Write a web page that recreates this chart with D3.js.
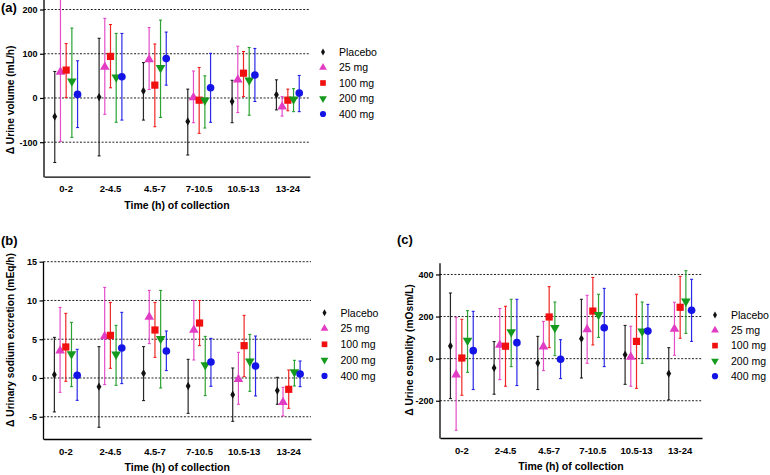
<!DOCTYPE html>
<html><head><meta charset="utf-8">
<script src="https://cdn.jsdelivr.net/npm/d3@7"></script>
<style>body{margin:0;background:#fff}svg{display:block}text{font-family:"Liberation Sans",Arial,sans-serif}</style>
</head><body><svg id="c" width="770" height="475"></svg>
<script>
const categories = ["0-2","2-4.5","4.5-7","7-10.5","10.5-13","13-24"];
const series = ["Placebo","25 mg","100 mg","200 mg","400 mg"];
const colors = ["#111111","#e23cc4","#f01010","#169a1e","#1414e6"];

// (a) Urine volume (mL/h): rows = series, cols = categories
const volMean = [[-42,2,16,-53,-8,7],[59,70,87,1,41,-20],[63,94,29,-5,56,-5],[38,47,68,-5,40,-3],[8,48,89,23,52,11]];
const volLow  = [[-146,-131,-50,-129,-56,-27],[-98,-37,19,-56,-33,-41],[1,23,-65,-80,3,-29],[-89,-55,-44,-68,-39,-31],[-67,-50,29,-55,-8,-31]];
const volHigh = [[60,135,80,20,40,41],[222,180,159,61,117,3],[123,166,122,69,105,20],[158,146,176,50,114,21],[84,146,149,101,112,51]];
const volTicks = [-100,0,100,200];

// (b) Urinary sodium excretion (mEq/h)
const naMean = [[0.43,-1.12,0.6,-1.03,-2.15,-1.63],[3.52,5.37,7.86,6.19,-0.17,-3.14],[4.0,5.5,6.19,7.09,4.17,-1.46],[3.1,3.05,5.07,1.68,2.15,0.77],[0.34,3.87,3.48,2.06,1.55,0.52]];
const naLow  = [[-4.38,-6.36,-2.92,-4.56,-5.59,-3.39],[-1.85,-0.86,4.43,2.32,-3.39,-4.9],[-0.43,1.25,2.66,4.17,0.17,-3.91],[-1.12,-0.95,-1.29,-2.28,-1.72,-1.03],[-2.88,-0.73,0.95,-1.07,-2.32,-1.12]];
const naHigh = [[5.24,4.04,4.04,2.41,1.29,0.09],[9.11,11.69,11.3,10.0,3.31,-1.2],[8.34,9.75,9.75,10.0,8.08,1.03],[7.18,6.79,11.3,5.37,5.63,2.28],[3.7,8.47,6.06,5.11,5.41,2.19]];
const naTicks = [-5,0,5,10,15];

// (c) Urine osmolity (mOsm/L)
const osmMean = [[60,-44,-21,95,19,-71],[-76,65,57,139,8,141],[3,59,198,226,82,244],[86,127,147,209,130,272],[38,76,-3,147,131,230]];
const osmLow  = [[-190,-169,-147,-92,-122,-196],[-340,-100,-57,-22,-131,16],[-174,-131,52,65,-141,97],[-65,-38,14,101,-22,120],[-147,-128,-95,-38,0,82]];
const osmHigh = [[312,81,106,282,158,52],[196,238,177,301,154,268],[187,249,342,386,306,391],[228,282,269,306,269,418],[225,282,90,334,258,377]];
const osmTicks = [-200,0,200,400];

const svg = d3.select("#c");
const symbols = [d3.symbolDiamond, d3.symbolTriangle, d3.symbolSquare, d3.symbolTriangle, d3.symbolCircle];
const symSizes = [20, 40, 52, 40, 46];
const legSizes = [14, 26, 32, 26, 30];
const symRot = [0,0,0,180,0];

function panel(cfg){
  const g = svg.append("g");
  const x = d3.scaleBand().domain(categories).range([cfg.x0, cfg.x1]);
  const y = d3.scaleLinear().domain(cfg.domain).range([cfg.yb, cfg.yt]);
  g.selectAll("line.grid").data(cfg.ticks).join("line")
    .attr("x1", cfg.x0).attr("x2", cfg.x1)
    .attr("y1", d=>y(d)).attr("y2", d=>y(d))
    .attr("stroke","#222").attr("stroke-width",1).attr("stroke-dasharray","2,1.6");
  const ya = g.append("g").attr("transform",`translate(${cfg.x0},0)`)
    .call(d3.axisLeft(y).tickValues(cfg.ticks).tickSize(4).tickPadding(2.5).tickFormat(d => String(d)));
  ya.select(".domain").remove();
  ya.selectAll(".tick line").attr("stroke","#000").attr("stroke-width",1.2);
  ya.selectAll(".tick text").attr("font-size",9).attr("font-weight","bold").attr("fill","#000")
    .attr("font-family",'"Liberation Sans",Arial,sans-serif');
  g.append("line").attr("x1",cfg.x0).attr("x2",cfg.x0).attr("y1",cfg.yt).attr("y2",cfg.yb+0.6)
    .attr("stroke","#000").attr("stroke-width",1.3);
  const xa = g.append("g").attr("transform",`translate(0,${cfg.yb})`)
    .call(d3.axisBottom(x).tickSize(0).tickPadding(9));
  xa.select(".domain").attr("stroke","#000").attr("stroke-width",1.3);
  xa.selectAll(".tick text").attr("font-size",9.5).attr("font-weight","bold").attr("fill","#000")
    .attr("font-family",'"Liberation Sans",Arial,sans-serif');
  g.append("text").attr("x",(cfg.x0+cfg.x1)/2).attr("y",cfg.yb+32).attr("text-anchor","middle")
    .attr("font-size",10.5).attr("font-weight","bold").text("Time (h) of collection");
  g.append("text").attr("transform",`translate(${cfg.ylx},${cfg.yly}) rotate(-90)`).attr("text-anchor","middle")
    .attr("font-size",10.2).attr("font-weight","bold").text(cfg.ylabel);
  g.append("text").attr("x",cfg.lx).attr("y",cfg.ly).attr("font-size",13).attr("font-weight","bold").text(cfg.letter);
  const cx = (ci, si) => x(categories[ci]) + x.bandwidth()/2 + (si-2)*5.7;
  series.forEach((s, si) => {
    const pts = categories.map((c, ci) => ({ci, m: cfg.mean[si][ci], lo: cfg.low[si][ci], hi: cfg.high[si][ci]}));
    const sg = g.append("g");
    const hiC = d => y(Math.min(d.hi, cfg.domain[1]));
    sg.selectAll("line.eb").data(pts).join("line")
      .attr("x1", d=>cx(d.ci,si)).attr("x2", d=>cx(d.ci,si))
      .attr("y1", d=>y(d.lo)).attr("y2", hiC)
      .attr("stroke", colors[si]).attr("stroke-width",1.2).attr("opacity",0.9);
    sg.selectAll("line.cl").data(pts).join("line")
      .attr("x1", d=>cx(d.ci,si)-1.5).attr("x2", d=>cx(d.ci,si)+1.5)
      .attr("y1", d=>y(d.lo)).attr("y2", d=>y(d.lo))
      .attr("stroke", colors[si]).attr("stroke-width",1);
    sg.selectAll("line.ch").data(pts.filter(d=>d.hi<cfg.domain[1])).join("line")
      .attr("x1", d=>cx(d.ci,si)-1.5).attr("x2", d=>cx(d.ci,si)+1.5)
      .attr("y1", d=>y(d.hi)).attr("y2", d=>y(d.hi))
      .attr("stroke", colors[si]).attr("stroke-width",1);
    sg.selectAll("path.m").data(pts).join("path")
      .attr("d", d3.symbol(symbols[si], symSizes[si]))
      .attr("transform", d=>`translate(${cx(d.ci,si)},${y(d.m)}) rotate(${symRot[si]})`)
      .attr("fill", colors[si]);
  });
  series.forEach((s, si) => {
    const ly = cfg.legY + si*cfg.legDy;
    g.append("path").attr("d", d3.symbol(symbols[si], legSizes[si]))
      .attr("transform", `translate(${cfg.legX},${ly}) rotate(${symRot[si]})`).attr("fill", colors[si]);
    g.append("text").attr("x", cfg.legX+16).attr("y", ly+3.8).attr("font-size",10.5).text(s);
  });
}

panel({x0:44, x1:310, yt:0, yb:176.7, domain:[-178,221.5], ticks:volTicks,
  mean:volMean, low:volLow, high:volHigh, ylabel:"Δ Urine volume (mL/h)", ylx:13.5, yly:100,
  letter:"(a)", lx:1, ly:12, legX:323, legY:52, legDy:15.5});
panel({x0:43.5, x1:311, yt:261.7, yb:439, domain:[-7.87,15], ticks:naTicks,
  mean:naMean, low:naLow, high:naHigh, ylabel:"Δ Urinary sodium excretion (mEq/h)", ylx:13.5, yly:340,
  letter:"(b)", lx:1, ly:245, legX:324.5, legY:312.7, legDy:15.8});
panel({x0:440, x1:702, yt:263.3, yb:438, domain:[-377,453], ticks:osmTicks,
  mean:osmMean, low:osmLow, high:osmHigh, ylabel:"Δ Urine osmolity (mOsm/L)", ylx:412.5, yly:350,
  letter:"(c)", lx:397, ly:244, legX:715, legY:315, legDy:15.3});
</script></body></html>
